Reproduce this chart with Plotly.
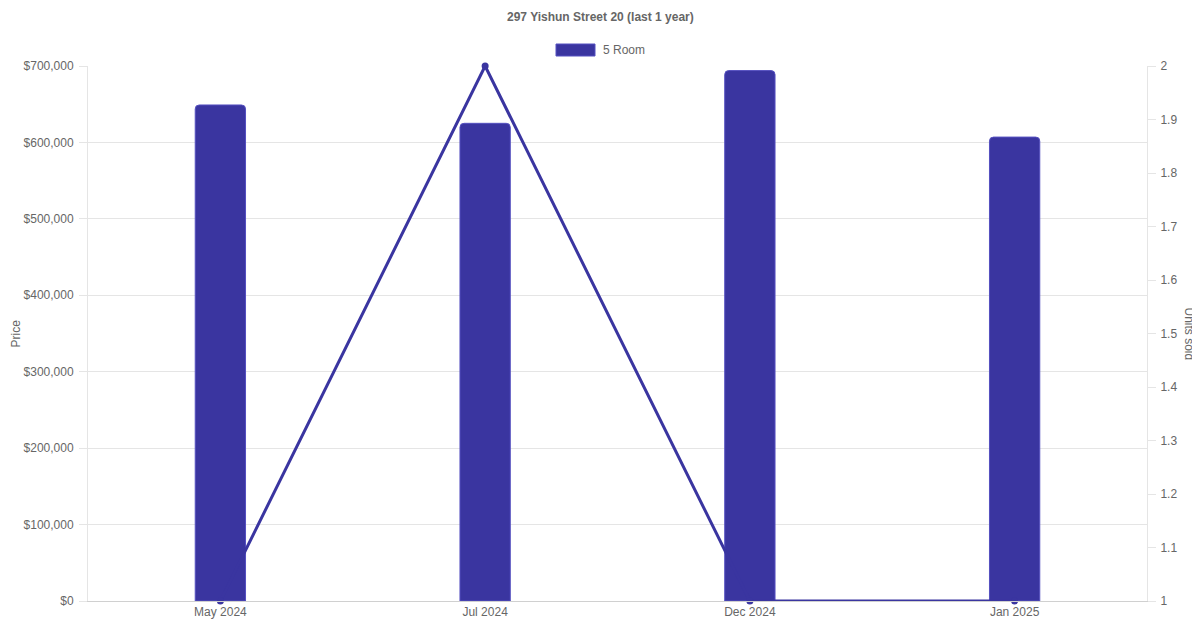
import plotly.graph_objects as go

categories = ["May 2024", "Jul 2024", "Dec 2024", "Jan 2025"]
prices = [649000, 625000, 694000, 607000]
units_sold = [1, 2, 1, 1]
price_ticks = [0, 100000, 200000, 300000, 400000, 500000, 600000, 700000]
price_tick_labels = ["$0", "$100,000", "$200,000", "$300,000", "$400,000", "$500,000", "$600,000", "$700,000"]
unit_ticks = [1, 1.1, 1.2, 1.3, 1.4, 1.5, 1.6, 1.7, 1.8, 1.9, 2]
unit_tick_labels = ["1", "1.1", "1.2", "1.3", "1.4", "1.5", "1.6", "1.7", "1.8", "1.9", "2"]

COLOR = "#3a35a0"
GRID = "#e5e5e5"
TXT = "#666666"
FONT = "Liberation Sans, Arial, sans-serif"

fig = go.Figure()
fig.add_trace(go.Bar(
    x=categories, y=prices, name="5 Room",
    marker=dict(color=COLOR, line=dict(color="#5550c0", width=1)),
    width=0.19, yaxis="y", showlegend=False, hoverinfo="skip",
))
fig.add_trace(go.Scatter(
    x=categories, y=units_sold, mode="lines+markers", yaxis="y2",
    line=dict(color=COLOR, width=3), marker=dict(color=COLOR, size=7),
    showlegend=False, cliponaxis=False, hoverinfo="skip",
))

fig.update_layout(
    width=1200, height=630,
    margin=dict(l=80, r=61, t=58, b=37),
    paper_bgcolor="white", plot_bgcolor="white",
    font=dict(family=FONT, size=12, color=TXT),
    barcornerradius=4,
    showlegend=False,
    xaxis=dict(
        showgrid=False, showline=True, linecolor="#d0d0d0", linewidth=1,
        ticks="", tickfont=dict(size=12, color=TXT), fixedrange=True,
    ),
    yaxis=dict(
        range=[0, 700000], tickvals=price_ticks, ticktext=price_tick_labels,
        showgrid=True, gridcolor=GRID, gridwidth=1, zeroline=False,
        showline=True, linecolor=GRID, linewidth=1,
        ticks="outside", ticklen=8, tickcolor=GRID, ticklabelstandoff=3,
        tickfont=dict(size=12, color=TXT),
    ),
    yaxis2=dict(
        range=[1, 2], tickvals=unit_ticks, ticktext=unit_tick_labels,
        overlaying="y", side="right", showgrid=False, zeroline=False,
        showline=True, linecolor=GRID, linewidth=1,
        ticks="outside", ticklen=8, tickcolor=GRID, ticklabelstandoff=2,
        tickfont=dict(size=12, color=TXT),
    ),
    annotations=[
        dict(text="<b>297 Yishun Street 20 (last 1 year)</b>", xref="paper", yref="paper",
             x=(600 - 88) / 1059, y=(601 - 17) / 535, xanchor="center", yanchor="middle",
             showarrow=False, font=dict(size=12, color=TXT)),
        dict(text="5 Room", xref="paper", yref="paper",
             x=(601 - 88) / 1059, y=(601 - 50) / 535, xanchor="left", yanchor="middle",
             showarrow=False, font=dict(size=12, color=TXT)),
        dict(text="Price", xref="paper", yref="paper",
             x=(15 - 88) / 1059, y=0.5, xanchor="center", yanchor="middle", textangle=-90,
             showarrow=False, font=dict(size=12, color=TXT)),
        dict(text="Units sold", xref="paper", yref="paper",
             x=(1189 - 88) / 1059, y=0.5, xanchor="center", yanchor="middle", textangle=90,
             showarrow=False, font=dict(size=12, color=TXT)),
    ],
    shapes=[
        dict(type="rect", xref="paper", yref="paper",
             x0=(556 - 88) / 1059, x1=(595 - 88) / 1059,
             y0=(601 - 56) / 535, y1=(601 - 44) / 535,
             fillcolor=COLOR, line=dict(color="#5550c0", width=1)),
    ],
)

fig.write_html("out.html")
